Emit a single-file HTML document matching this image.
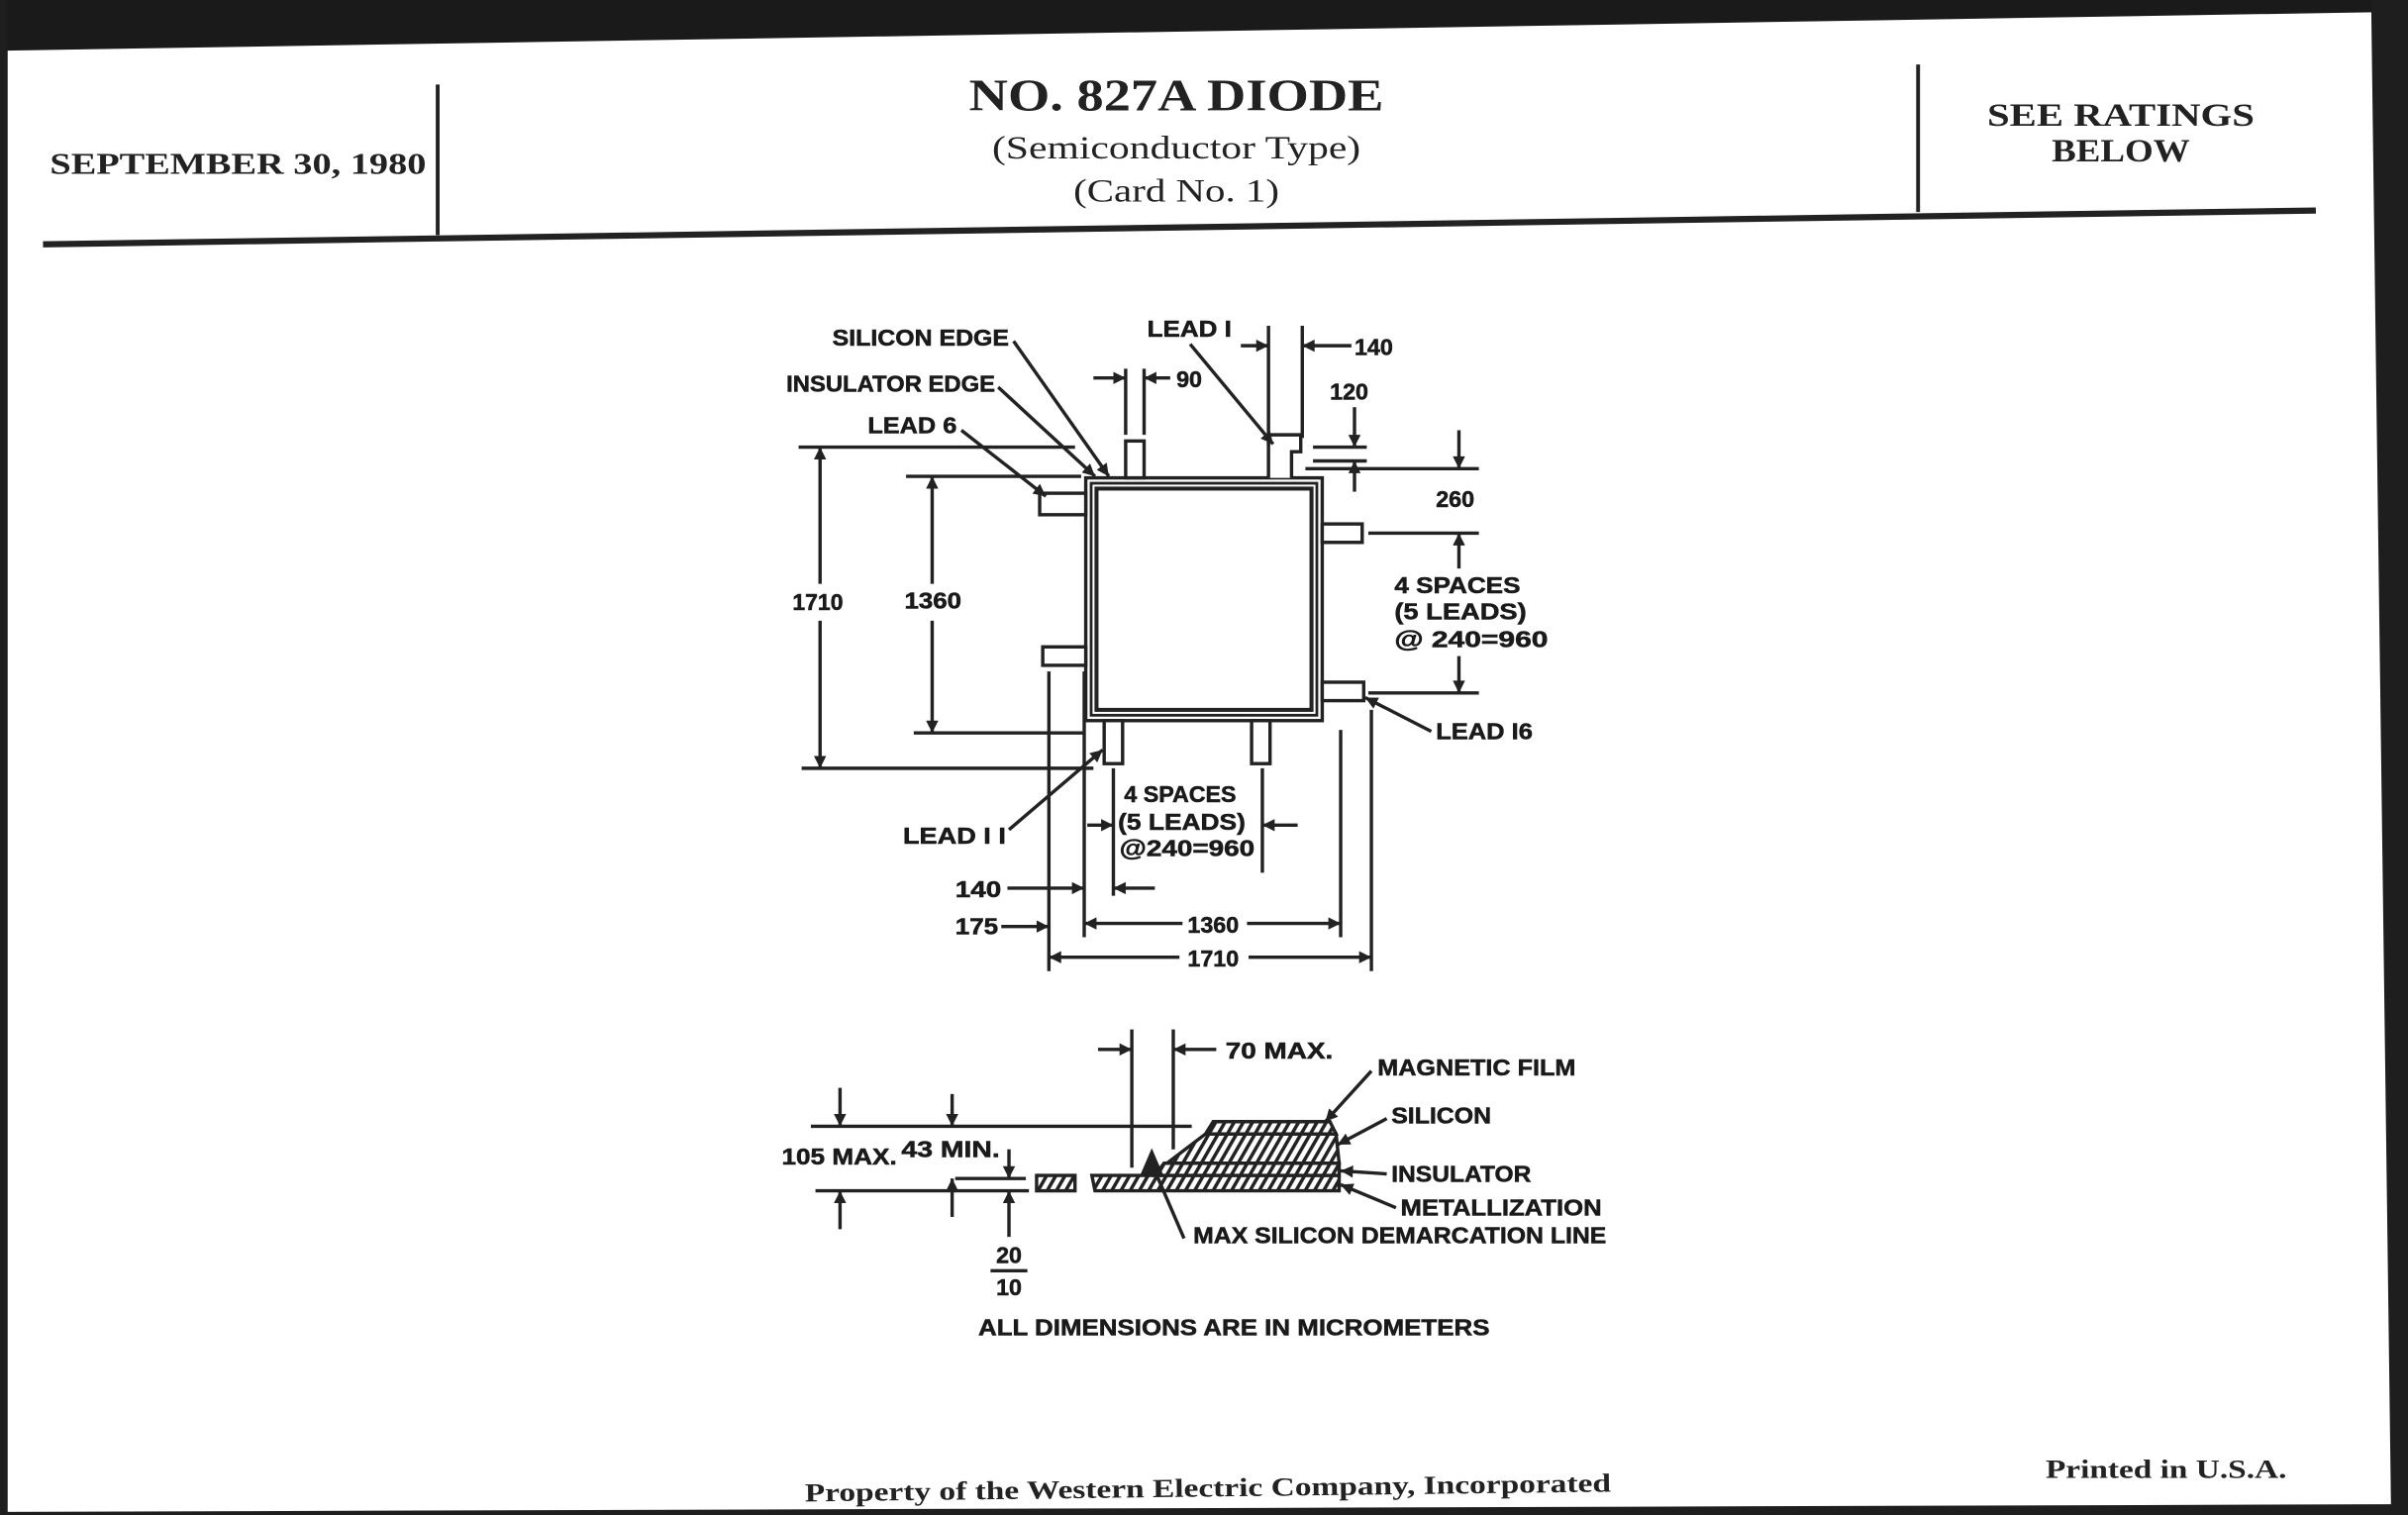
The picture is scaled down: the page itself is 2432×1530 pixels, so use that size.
<!DOCTYPE html>
<html><head><meta charset="utf-8"><style>
html,body{margin:0;padding:0;background:#fff}
svg{display:block}
.s{font-family:"Liberation Serif",serif;font-weight:bold;fill:#222}
.d{font-family:"Liberation Sans",sans-serif;font-weight:bold;fill:#1a1a1a;font-size:15px;stroke:#1a1a1a;stroke-width:0.35px}
</style></head><body>
<svg width="2432" height="1530" viewBox="0 0 1568 986" preserveAspectRatio="none" xmlns="http://www.w3.org/2000/svg">
<defs>
<marker id="a" viewBox="0 0 10 10" refX="10" refY="5" markerWidth="11" markerHeight="8" markerUnits="userSpaceOnUse" orient="auto-start-reverse"><path d="M0,0 L10,5 L0,10 z" fill="#222"/></marker>
<pattern id="h" width="6" height="10" patternUnits="userSpaceOnUse" patternTransform="skewX(-30)"><rect width="6" height="10" fill="#fff"/><rect width="2.6" height="10" fill="#222"/></pattern>
</defs>
<rect width="1568" height="986" fill="#fff"/>
<polygon points="0,0 1568,0 1568,10 1545,8 0,33" fill="#1a1a1a"/>
<polygon points="1544,0 1568,0 1568,986 1557,986" fill="#1e1e1e"/>
<polygon points="0,0 5,0 5,986 0,986" fill="#1e1e1e"/>
<polygon points="0,984 1557,979 1568,986 0,986" fill="#1e1e1e"/>

<g stroke="#222" fill="none">
<line x1="285" y1="55" x2="285" y2="153" stroke-width="2.5"/>
<line x1="1249" y1="42" x2="1249" y2="138" stroke-width="2.5"/>
<line x1="28" y1="159" x2="1508" y2="137" stroke-width="4"/>
</g>
<text class="s" x="155" y="113" font-size="20" text-anchor="middle" textLength="245" lengthAdjust="spacingAndGlyphs">SEPTEMBER 30, 1980</text>
<text class="s" x="766" y="72" font-size="29" text-anchor="middle" textLength="270" lengthAdjust="spacingAndGlyphs">NO. 827A DIODE</text>
<text class="s" x="766" y="103" font-size="21" text-anchor="middle" textLength="240" lengthAdjust="spacingAndGlyphs" style="font-weight:normal">(Semiconductor Type)</text>
<text class="s" x="766" y="131" font-size="21" text-anchor="middle" textLength="134" lengthAdjust="spacingAndGlyphs" style="font-weight:normal">(Card No. 1)</text>
<text class="s" x="1381" y="82" font-size="21" text-anchor="middle" textLength="174" lengthAdjust="spacingAndGlyphs">SEE RATINGS</text>
<text class="s" x="1381" y="105" font-size="21" text-anchor="middle" textLength="90" lengthAdjust="spacingAndGlyphs">BELOW</text>

<text class="s" x="524" y="974" font-size="17" textLength="525" lengthAdjust="spacingAndGlyphs" transform="rotate(-0.7 786 970)">Property of the Western Electric Company, Incorporated</text>
<text class="s" x="1332" y="962" font-size="17" textLength="157" lengthAdjust="spacingAndGlyphs">Printed in U.S.A.</text>

<g stroke="#222" fill="none" stroke-width="2.2">
<rect x="707" y="311" width="154" height="158"/>
<rect x="710.5" y="314.5" width="147" height="151" stroke-width="1.8"/>
<rect x="714" y="318" width="140" height="144" stroke-width="2.6"/>
<rect x="733" y="287" width="12" height="24" fill="#fff"/>
<path d="M826,311 V283 H847 V294 H841 V311" fill="#fff"/>
<rect x="677" y="321" width="30" height="14" fill="#fff"/>
<rect x="679" y="421" width="28" height="12" fill="#fff"/>
<rect x="861" y="341" width="26" height="12" fill="#fff"/>
<rect x="861" y="444" width="27" height="12" fill="#fff"/>
<rect x="719" y="469" width="12" height="28" fill="#fff"/>
<rect x="815" y="469" width="12" height="28" fill="#fff"/>

<line x1="520" y1="291" x2="700" y2="291"/>
<line x1="522" y1="500" x2="712" y2="500"/>
<line x1="534" y1="380" x2="534" y2="291" marker-end="url(#a)"/>
<line x1="534" y1="404" x2="534" y2="500" marker-end="url(#a)"/>
<line x1="590" y1="310" x2="704" y2="310"/>
<line x1="595" y1="477" x2="705" y2="477"/>
<line x1="607" y1="380" x2="607" y2="310" marker-end="url(#a)"/>
<line x1="607" y1="404" x2="607" y2="477" marker-end="url(#a)"/>

<line x1="733" y1="240" x2="733" y2="283"/>
<line x1="745" y1="240" x2="745" y2="283"/>
<line x1="712" y1="246" x2="733" y2="246" marker-end="url(#a)"/>
<line x1="762" y1="246" x2="745" y2="246" marker-end="url(#a)"/>
<line x1="826" y1="212" x2="826" y2="290"/>
<line x1="848" y1="212" x2="848" y2="285"/>
<line x1="808" y1="225" x2="826" y2="225" marker-end="url(#a)"/>
<line x1="880" y1="225" x2="848" y2="225" marker-end="url(#a)"/>
<line x1="882" y1="265" x2="882" y2="291" marker-end="url(#a)"/>
<line x1="855" y1="291" x2="890" y2="291"/>
<line x1="855" y1="300" x2="890" y2="300"/>
<line x1="882" y1="320" x2="882" y2="300" marker-end="url(#a)"/>
<line x1="850" y1="305" x2="963" y2="305"/>
<line x1="891" y1="347" x2="963" y2="347"/>
<line x1="891" y1="451" x2="963" y2="451"/>
<line x1="950" y1="280" x2="950" y2="305" marker-end="url(#a)"/>
<line x1="950" y1="370" x2="950" y2="347" marker-end="url(#a)"/>
<line x1="950" y1="427" x2="950" y2="451" marker-end="url(#a)"/>
<line x1="683" y1="437" x2="683" y2="632"/>
<line x1="706" y1="437" x2="706" y2="610"/>
<line x1="725" y1="500" x2="725" y2="583"/>
<line x1="822" y1="500" x2="822" y2="568"/>
<line x1="873" y1="475" x2="873" y2="610"/>
<line x1="893" y1="462" x2="893" y2="632"/>
<line x1="708" y1="537" x2="725" y2="537" marker-end="url(#a)"/>
<line x1="845" y1="537" x2="822" y2="537" marker-end="url(#a)"/>
<line x1="656" y1="578" x2="706" y2="578" marker-end="url(#a)"/>
<line x1="752" y1="578" x2="725" y2="578" marker-end="url(#a)"/>
<line x1="652" y1="603" x2="683" y2="603" marker-end="url(#a)"/>
<line x1="770" y1="601" x2="706" y2="601" marker-end="url(#a)"/>
<line x1="812" y1="601" x2="873" y2="601" marker-end="url(#a)"/>
<line x1="768" y1="623" x2="683" y2="623" marker-end="url(#a)"/>
<line x1="813" y1="623" x2="893" y2="623" marker-end="url(#a)"/>
<line x1="660" y1="222" x2="722" y2="310" marker-end="url(#a)"/>
<line x1="650" y1="252" x2="713" y2="310" marker-end="url(#a)"/>
<line x1="626" y1="280" x2="681" y2="323" marker-end="url(#a)"/>
<line x1="775" y1="224" x2="829" y2="289" marker-end="url(#a)"/>
<line x1="932" y1="476" x2="889" y2="454" marker-end="url(#a)"/>
<line x1="657" y1="540" x2="718" y2="488" marker-end="url(#a)"/>
</g>
<text class="d" x="542" y="225" textLength="115" lengthAdjust="spacingAndGlyphs">SILICON EDGE</text>
<text class="d" x="512" y="255" textLength="136" lengthAdjust="spacingAndGlyphs">INSULATOR EDGE</text>
<text class="d" x="565" y="282" textLength="58" lengthAdjust="spacingAndGlyphs">LEAD 6</text>
<text class="d" x="747" y="219" textLength="55" lengthAdjust="spacingAndGlyphs">LEAD I</text>
<text class="d" x="766" y="252" font-size="16">90</text>
<text class="d" x="882" y="231" font-size="16">140</text>
<text class="d" x="866" y="260" font-size="16">120</text>
<text class="d" x="935" y="330" font-size="16">260</text>
<text class="d" x="516" y="397" textLength="33" lengthAdjust="spacingAndGlyphs">1710</text>
<text class="d" x="589" y="396" textLength="37" lengthAdjust="spacingAndGlyphs">1360</text>
<text class="d" x="908" y="386" textLength="82" lengthAdjust="spacingAndGlyphs">4 SPACES</text>
<text class="d" x="908" y="403" textLength="86" lengthAdjust="spacingAndGlyphs">(5 LEADS)</text>
<text class="d" x="908" y="421" textLength="100" lengthAdjust="spacingAndGlyphs">@ 240=960</text>
<text class="d" x="935" y="481" textLength="63" lengthAdjust="spacingAndGlyphs">LEAD I6</text>
<text class="d" x="588" y="549" textLength="67" lengthAdjust="spacingAndGlyphs">LEAD I I</text>
<text class="d" x="732" y="522" textLength="73" lengthAdjust="spacingAndGlyphs">4 SPACES</text>
<text class="d" x="728" y="540" textLength="83" lengthAdjust="spacingAndGlyphs">(5 LEADS)</text>
<text class="d" x="729" y="557" textLength="88" lengthAdjust="spacingAndGlyphs">@240=960</text>
<text class="d" x="622" y="584" textLength="30" lengthAdjust="spacingAndGlyphs">140</text>
<text class="d" x="622" y="608" textLength="28" lengthAdjust="spacingAndGlyphs">175</text>
<text class="d" x="790" y="607" text-anchor="middle" font-size="16">1360</text>
<text class="d" x="790" y="629" text-anchor="middle" font-size="16">1710</text>

<g stroke="#222" fill="none" stroke-width="2.2">
<line x1="528" y1="733" x2="776" y2="733"/>
<line x1="531" y1="775" x2="670" y2="775"/>
<line x1="622" y1="767" x2="668" y2="767"/>
<line x1="547" y1="708" x2="547" y2="733" marker-end="url(#a)"/>
<line x1="547" y1="800" x2="547" y2="775" marker-end="url(#a)"/>
<line x1="620" y1="712" x2="620" y2="733" marker-end="url(#a)"/>
<line x1="620" y1="792" x2="620" y2="767" marker-end="url(#a)"/>
<line x1="657" y1="748" x2="657" y2="767" marker-end="url(#a)"/>
<line x1="657" y1="805" x2="657" y2="775" marker-end="url(#a)"/>
<line x1="645" y1="827" x2="669" y2="827"/>
<line x1="737" y1="670" x2="737" y2="760"/>
<line x1="764" y1="670" x2="764" y2="748"/>
<line x1="715" y1="683" x2="737" y2="683" marker-end="url(#a)"/>
<line x1="792" y1="683" x2="764" y2="683" marker-end="url(#a)"/>
<rect x="675" y="765" width="25" height="10" fill="url(#h)"/>
<polygon points="711,765 872,765 872,775 713,775" fill="url(#h)"/>
<polygon points="758,757 872,757 872,765 752,765" fill="url(#h)"/>
<polygon points="760,757 785,738 870,738 872,757" fill="url(#h)"/>
<polygon points="785,738 790,730 866,730 870,738" fill="url(#h)"/>
<polygon points="744,764 750,750 756,764" fill="#222"/>
<line x1="771" y1="806" x2="752" y2="762"/>
<line x1="893" y1="697" x2="863" y2="730" marker-end="url(#a)"/>
<line x1="903" y1="728" x2="871" y2="745" marker-end="url(#a)"/>
<line x1="903" y1="764" x2="873" y2="762" marker-end="url(#a)"/>
<line x1="909" y1="786" x2="873" y2="771" marker-end="url(#a)"/>
</g>
<text class="d" x="509" y="758" textLength="75" lengthAdjust="spacingAndGlyphs">105 MAX.</text>
<text class="d" x="587" y="753" textLength="64" lengthAdjust="spacingAndGlyphs">43 MIN.</text>
<text class="d" x="657" y="822" text-anchor="middle" font-size="16">20</text>
<text class="d" x="657" y="843" text-anchor="middle" font-size="16">10</text>
<text class="d" x="798" y="689" textLength="70" lengthAdjust="spacingAndGlyphs">70 MAX.</text>
<text class="d" x="897" y="700" textLength="129" lengthAdjust="spacingAndGlyphs">MAGNETIC FILM</text>
<text class="d" x="906" y="731" textLength="65" lengthAdjust="spacingAndGlyphs">SILICON</text>
<text class="d" x="906" y="769" textLength="91" lengthAdjust="spacingAndGlyphs">INSULATOR</text>
<text class="d" x="912" y="791" textLength="131" lengthAdjust="spacingAndGlyphs">METALLIZATION</text>
<text class="d" x="777" y="809" textLength="269" lengthAdjust="spacingAndGlyphs">MAX SILICON DEMARCATION LINE</text>
<text class="d" x="637" y="869" textLength="333" lengthAdjust="spacingAndGlyphs">ALL DIMENSIONS ARE IN MICROMETERS</text>
</svg>
</body></html>
